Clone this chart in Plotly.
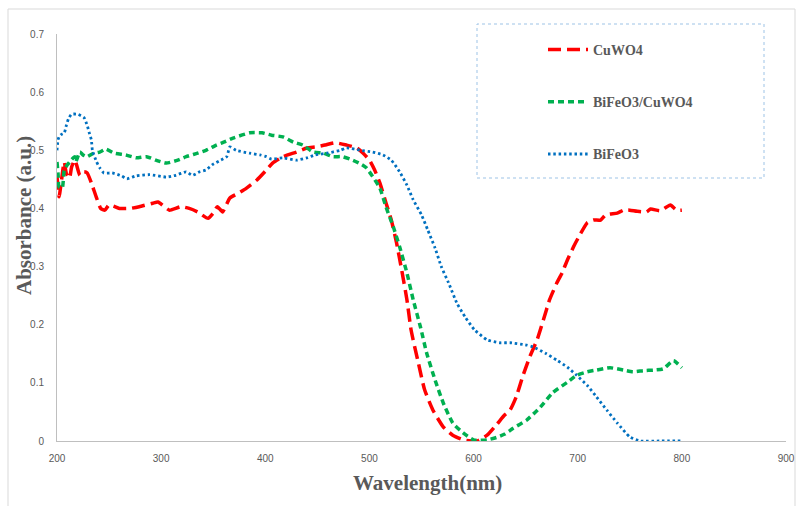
import plotly.graph_objects as go

# ---- data ----
cuwo4_x = [200, 202, 204, 206, 207, 209, 212, 214, 217, 218, 222, 226, 229, 233, 238, 242, 246, 250, 260, 270,
           279, 292, 297, 303, 308, 319, 327, 335, 345, 350, 354, 359, 366, 375, 382, 392, 401, 407, 417, 430,
           440, 449, 457, 467, 478, 488, 494, 500, 505, 510, 516, 521, 526, 531, 536, 540, 547, 553, 561, 571,
           580, 590, 603, 613, 622, 630, 635, 641, 647, 654, 661, 667, 673, 680, 685, 690, 696, 701, 709, 715,
           722, 727, 738, 744, 750, 757, 766, 770, 779, 785, 789, 795, 800]
cuwo4_y = [0.455, 0.42, 0.444, 0.471, 0.48, 0.46, 0.452, 0.471, 0.483, 0.48, 0.457, 0.463, 0.461, 0.444, 0.418, 0.40, 0.397, 0.406, 0.40, 0.40,
           0.403, 0.409, 0.411, 0.403, 0.397, 0.403, 0.40, 0.394, 0.383, 0.392, 0.403, 0.394, 0.418, 0.427, 0.435, 0.449, 0.466, 0.478, 0.489, 0.497,
           0.504, 0.506, 0.509, 0.513, 0.509, 0.504, 0.495, 0.483, 0.466, 0.444, 0.409, 0.38, 0.341, 0.294, 0.243, 0.191, 0.134, 0.088, 0.053, 0.024,
           0.01, 0.002, 0.0, 0.01, 0.028, 0.045, 0.053, 0.076, 0.11, 0.145, 0.174, 0.208, 0.243, 0.272, 0.289, 0.311, 0.334, 0.351, 0.375, 0.38,
           0.38, 0.389, 0.392, 0.397, 0.397, 0.395, 0.394, 0.399, 0.396, 0.402, 0.406, 0.397, 0.397]

comp_x = [200, 201, 202, 205, 207, 210, 214, 217, 218, 222, 225, 229, 234, 241, 247, 255, 266, 276, 286, 295,
          305, 316, 324, 335, 343, 353, 360, 369, 385, 397, 406, 417, 427, 436, 446, 456, 465, 474, 484, 491,
          497, 503, 510, 516, 523, 529, 536, 542, 549, 555, 563, 571, 580, 590, 600, 613, 622, 630, 638, 651,
          664, 676, 690, 699, 709, 718, 731, 744, 753, 763, 773, 782, 792, 800]
comp_y = [0.48, 0.46, 0.437, 0.435, 0.466, 0.475, 0.484, 0.489, 0.48, 0.497, 0.492, 0.489, 0.494, 0.497, 0.502, 0.495, 0.492, 0.487, 0.489, 0.483,
          0.478, 0.483, 0.489, 0.495, 0.50, 0.509, 0.514, 0.521, 0.53, 0.53, 0.526, 0.523, 0.514, 0.509, 0.497, 0.495, 0.489, 0.489, 0.483, 0.477,
          0.47, 0.455, 0.435, 0.402, 0.368, 0.334, 0.289, 0.243, 0.196, 0.151, 0.105, 0.065, 0.031, 0.014, 0.002, 0.002, 0.006, 0.012, 0.022, 0.036,
          0.058, 0.083, 0.101, 0.113, 0.119, 0.122, 0.126, 0.122, 0.119, 0.121, 0.122, 0.124, 0.138, 0.126]

bfo_x = [200, 201, 202, 204, 207, 209, 211, 214, 220, 226, 229, 231, 233, 234, 238, 241, 245, 253, 262, 267,
         276, 289, 305, 314, 324, 330, 337, 343, 349, 356, 363, 366, 372, 385, 395, 401, 406, 417, 430, 440,
         448, 459, 472, 478, 491, 503, 513, 521, 529, 536, 542, 550, 556, 563, 569, 576, 584, 592, 601, 613,
         625, 635, 651, 657, 669, 680, 690, 699, 709, 718, 728, 738, 750, 760, 780, 800]
bfo_y = [0.50, 0.518, 0.523, 0.527, 0.53, 0.543, 0.554, 0.562, 0.562, 0.556, 0.543, 0.53, 0.518, 0.50, 0.48, 0.47, 0.461, 0.461, 0.456, 0.451,
         0.456, 0.458, 0.454, 0.457, 0.463, 0.457, 0.463, 0.466, 0.475, 0.482, 0.489, 0.506, 0.50, 0.495, 0.492, 0.489, 0.485, 0.487, 0.483, 0.487,
         0.492, 0.495, 0.50, 0.504, 0.50, 0.497, 0.492, 0.483, 0.463, 0.44, 0.415, 0.389, 0.363, 0.332, 0.30, 0.272, 0.237, 0.213, 0.191, 0.174,
         0.169, 0.169, 0.165, 0.162, 0.151, 0.139, 0.127, 0.113, 0.096, 0.076, 0.053, 0.031, 0.007, 0.0, 0.0, 0.0]

series_names = ["CuWO4", "BiFeO3/CuWO4", "BiFeO3"]
x_ticks = [200, 300, 400, 500, 600, 700, 800, 900]
y_ticks = [0, 0.1, 0.2, 0.3, 0.4, 0.5, 0.6, 0.7]

# ---- layout helpers ----
W, H = 796, 506
ML, MR, MT, MB = 57, 10, 34, 65
PW, PH = W - ML - MR, H - MT - MB


def px_x(p):
    return (p - ML) / PW


def px_y(p):
    return 1 - (p - MT) / PH


fig = go.Figure()
fig.add_trace(go.Scatter(x=cuwo4_x, y=cuwo4_y, name=series_names[0], mode="lines", legendgroup="a",
                         line=dict(color="#FF0000", width=3.5, dash="13px,6px", shape="spline", smoothing=0.5)))
fig.add_trace(go.Scatter(x=comp_x, y=comp_y, name=series_names[1], mode="lines", legendgroup="b",
                         line=dict(color="#00B050", width=3.5, dash="6px,4px", shape="spline", smoothing=0.5)))
fig.add_trace(go.Scatter(x=bfo_x, y=bfo_y, name=series_names[2], mode="lines", legendgroup="c",
                         line=dict(color="#0070C0", width=2.8, dash="2.5px,2.8px", shape="spline", smoothing=0.5)))

tickfont = dict(family="Liberation Sans Narrow, Liberation Sans, Arial", size=10, color="#595959")
fig.update_xaxes(range=[200, 900], tickvals=x_ticks, showline=True, linecolor="#BFBFBF", linewidth=1,
                 showgrid=False, zeroline=False, ticks="", tickfont=tickfont, ticklabelstandoff=8,
                 automargin=False)
fig.update_yaxes(range=[0, 0.7], tickvals=y_ticks, showline=True, linecolor="#BFBFBF", linewidth=1,
                 showgrid=False, zeroline=False, ticks="", tickfont=tickfont, ticklabelstandoff=10,
                 automargin=False)

titlefont = dict(family="Liberation Serif, Times New Roman", size=21, color="#595959", weight="bold")
fig.add_annotation(text="Absorbance (a.u.)", xref="paper", yref="paper", x=px_x(24), y=px_y(216),
                   xanchor="center", yanchor="middle", textangle=-90, showarrow=False, font=titlefont)
fig.add_annotation(text="Wavelength(nm)", xref="paper", yref="paper", x=px_x(427), y=px_y(483),
                   xanchor="center", yanchor="middle", showarrow=False, font=titlefont)

# legend frame (dotted) and outer chart border
fig.add_shape(type="rect", xref="paper", yref="paper", x0=px_x(477), x1=px_x(764), y0=px_y(178), y1=px_y(24),
              line=dict(color="#9DC3E6", width=1, dash="dot"), fillcolor="rgba(0,0,0,0)", layer="below")
fig.add_shape(type="rect", xref="paper", yref="paper", x0=px_x(8), x1=px_x(795), y0=px_y(520), y1=px_y(9),
              line=dict(color="#D9D9D9", width=1), fillcolor="rgba(0,0,0,0)", layer="below")

fig.update_layout(
    width=W, height=H, autosize=False, margin=dict(l=ML, r=MR, t=MT, b=MB, autoexpand=False),
    paper_bgcolor="white", plot_bgcolor="white",
    legend=dict(x=px_x(543), y=px_y(34), xanchor="left", yanchor="top", bgcolor="rgba(0,0,0,0)",
                font=dict(family="Liberation Serif, Times New Roman", size=14, color="#595959", weight="bold"),
                tracegroupgap=31, itemwidth=40),
    showlegend=True,
)

fig.write_html("out.html")
